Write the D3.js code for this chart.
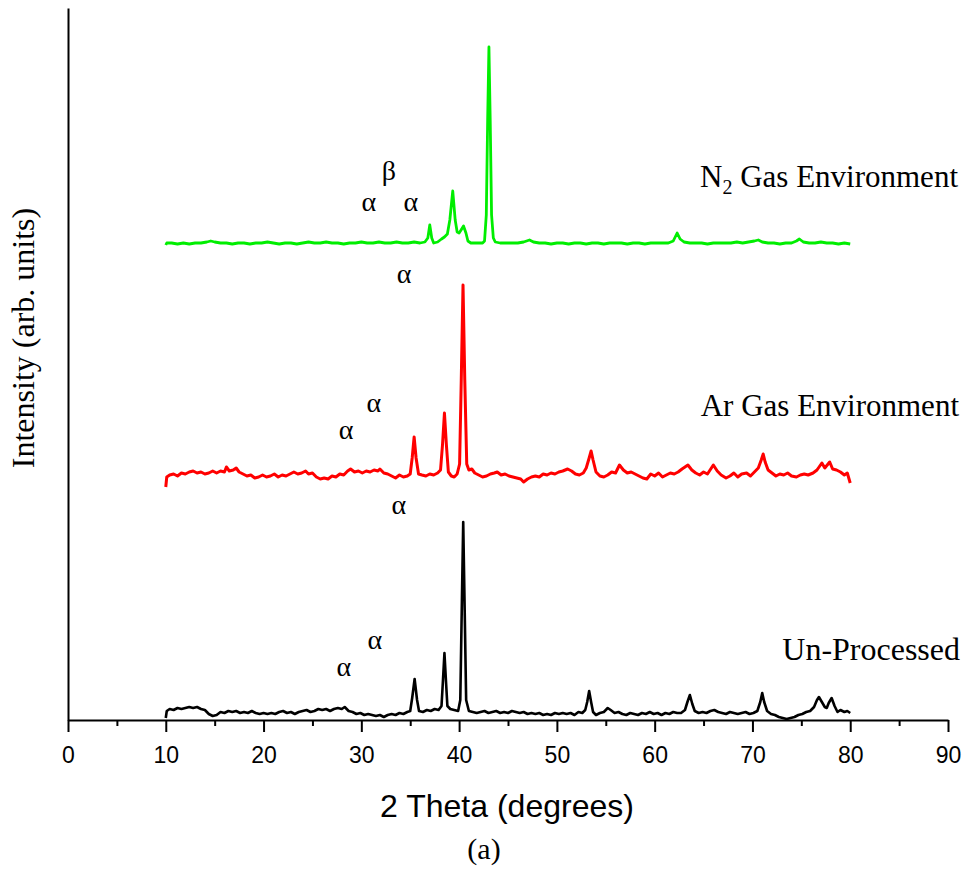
<!DOCTYPE html>
<html>
<head>
<meta charset="utf-8">
<script src="https://cdn.jsdelivr.net/npm/d3@7"></script>
<style>
  body { margin: 0; background: #fff; }
</style>
</head>
<body>
<div id="container"></div>
<script>
let w = 966;
let h = 869;

// x ticks
let majorTicks = [0, 10, 20, 30, 40, 50, 60, 70, 80, 90];
let minorTicks = [5, 15, 25, 35, 45, 55, 65, 75, 85];

// series names
let seriesNames = ["Un-Processed", "Ar Gas Environment", "N2 Gas Environment"];

// [2theta, intensity] (curves already stacked)
let unprocessed = [[10.0,2],[10.1,9],[10.4,11],[10.8,10],[11.2,12],[11.6,11],[12.0,12],[12.4,13],[12.8,12],[13.2,13],[13.6,11],[14.0,10],[14.4,6],[14.8,4],[15.2,5],[15.6,8],[16.0,7],[16.4,9],[16.8,8],[17.2,9],[17.6,7],[18.0,8],[18.4,7],[18.8,9],[19.2,7],[19.6,6],[20.0,7],[20.4,6],[20.8,7],[21.2,6],[21.6,8],[22.0,9],[22.4,7],[22.8,8],[23.2,6],[23.6,8],[24.0,9],[24.4,10],[24.8,8],[25.2,9],[25.6,11],[26.0,10],[26.4,11],[26.8,9],[27.2,11],[27.6,12],[28.0,11],[28.3,13],[28.7,9],[29.1,8],[29.5,6],[29.9,7],[30.3,5],[30.7,6],[31.1,5],[31.5,4],[31.9,5],[32.3,3],[32.7,5],[33.1,6],[33.5,5],[33.9,7],[34.3,6],[34.7,8],[35.0,9],[35.2,22],[35.45,41],[35.7,20],[35.9,9],[36.3,8],[36.7,10],[37.1,9],[37.5,11],[37.9,10],[38.2,14],[38.35,40],[38.5,67],[38.65,40],[38.8,14],[39.1,11],[39.5,10],[39.9,9],[40.12,20],[40.27,110],[40.42,198],[40.57,110],[40.72,20],[41.0,9],[41.4,8],[41.8,7],[42.2,8],[42.6,9],[43.0,7],[43.4,8],[43.8,9],[44.2,7],[44.6,8],[45.0,7],[45.4,9],[45.8,8],[46.2,7],[46.6,8],[47.0,6],[47.4,7],[47.8,6],[48.2,7],[48.6,5],[49.0,6],[49.4,5],[49.8,7],[50.2,6],[50.6,7],[51.0,6],[51.4,7],[51.8,5],[52.2,8],[52.6,7],[52.9,10],[53.1,18],[53.3,29],[53.5,18],[53.7,8],[54.0,5],[54.4,7],[54.8,8],[55.2,12],[55.5,10],[55.9,7],[56.3,8],[56.7,6],[57.1,5],[57.5,7],[57.9,6],[58.3,5],[58.7,7],[59.1,6],[59.5,8],[59.9,6],[60.3,7],[60.7,5],[61.1,7],[61.5,6],[61.9,8],[62.3,7],[62.7,7],[63.1,10],[63.35,18],[63.6,25],[63.85,16],[64.1,9],[64.5,7],[64.9,8],[65.3,7],[65.7,9],[66.1,10],[66.5,8],[66.9,7],[67.3,6],[67.7,8],[68.1,7],[68.5,6],[68.9,7],[69.3,8],[69.7,6],[70.1,7],[70.5,9],[70.8,18],[71.0,27],[71.2,18],[71.5,9],[71.9,6],[72.3,5],[72.7,3],[73.1,2],[73.5,1],[73.9,2],[74.3,3],[74.7,5],[75.1,6],[75.5,8],[75.9,9],[76.3,13],[76.6,20],[76.8,23],[77.1,18],[77.4,13],[77.6,12],[77.8,17],[78.1,22],[78.4,14],[78.7,8],[79.0,10],[79.4,8],[79.7,9],[80.0,7]];

let argon = [[10.0,233],[10.1,243],[10.4,245],[10.8,246],[11.2,244],[11.6,247],[12.0,246],[12.4,248],[12.8,249],[13.2,247],[13.6,248],[14.0,246],[14.4,247],[14.8,249],[15.2,247],[15.6,249],[16.0,248],[16.2,253],[16.5,249],[16.9,250],[17.2,252],[17.5,248],[17.9,246],[18.3,244],[18.7,245],[19.1,242],[19.5,243],[19.9,245],[20.3,243],[20.7,244],[21.1,246],[21.5,243],[21.9,245],[22.3,244],[22.7,246],[23.1,248],[23.5,246],[23.9,247],[24.3,249],[24.6,246],[25.0,247],[25.4,243],[25.8,241],[26.2,242],[26.6,241],[27.0,244],[27.4,243],[27.8,246],[28.2,245],[28.6,249],[28.9,251],[29.3,248],[29.7,249],[30.1,247],[30.5,249],[30.9,248],[31.3,250],[31.7,249],[31.9,251],[32.3,247],[32.7,246],[33.1,244],[33.5,242],[33.9,245],[34.3,243],[34.7,244],[35.0,246],[35.2,262],[35.4,283],[35.6,262],[35.85,246],[36.2,245],[36.6,244],[37.0,246],[37.4,245],[37.8,247],[38.1,250],[38.3,275],[38.5,307],[38.7,275],[38.9,248],[39.2,244],[39.5,243],[39.8,246],[40.05,256],[40.22,340],[40.4,435],[40.58,340],[40.78,256],[41.0,250],[41.3,251],[41.6,247],[42.0,245],[42.4,243],[42.8,244],[43.2,246],[43.6,247],[43.9,248],[44.3,245],[44.7,246],[45.1,244],[45.5,243],[45.9,242],[46.3,241],[46.6,238],[47.0,241],[47.4,243],[47.8,244],[48.2,243],[48.6,246],[49.0,245],[49.4,247],[49.8,246],[50.2,248],[50.6,249],[51.1,251],[51.5,249],[51.9,246],[52.3,245],[52.7,247],[53.0,252],[53.3,262],[53.5,269],[53.7,260],[54.0,248],[54.4,244],[54.8,243],[55.2,245],[55.6,248],[56.0,247],[56.4,255],[56.8,250],[57.2,247],[57.6,248],[58.0,246],[58.4,244],[58.8,242],[59.2,241],[59.6,246],[60.0,244],[60.4,247],[60.8,243],[61.2,245],[61.6,247],[62.0,246],[62.4,248],[62.8,251],[63.4,255],[63.8,250],[64.2,247],[64.6,245],[65.0,248],[65.4,246],[65.8,252],[66.0,255],[66.4,249],[66.8,245],[67.3,242],[67.7,244],[68.1,247],[68.5,243],[68.9,246],[69.4,247],[69.8,244],[70.2,248],[70.6,252],[70.9,260],[71.1,266],[71.3,258],[71.6,250],[72.0,247],[72.4,244],[72.8,246],[73.2,245],[73.6,247],[74.0,244],[74.5,243],[74.9,245],[75.3,246],[75.7,245],[76.2,247],[76.6,250],[77.1,257],[77.4,252],[77.9,258],[78.2,251],[78.6,250],[79.0,248],[79.4,245],[79.7,247],[80.0,237]];

let nitrogen = [[10.0,475],[10.1,477],[10.6,477],[11.2,476],[11.8,477],[12.4,476],[13.0,477],[13.6,477],[14.2,478],[14.6,479],[15.0,478],[15.6,477],[16.2,477],[16.8,476],[17.4,477],[18.0,477],[18.6,476],[19.2,477],[19.8,477],[20.4,478],[21.0,477],[21.6,476],[22.2,477],[22.8,477],[23.4,476],[24.0,477],[24.6,478],[25.2,477],[25.8,477],[26.4,478],[27.0,477],[27.6,477],[28.2,476],[28.8,477],[29.4,477],[30.0,478],[30.6,477],[31.2,477],[31.8,478],[32.4,477],[33.0,477],[33.6,478],[34.2,477],[34.8,477],[35.4,478],[36.0,477],[36.5,478],[36.8,482],[37.0,495],[37.2,482],[37.4,477],[37.8,478],[38.2,481],[38.5,483],[38.8,486],[39.05,500],[39.35,529],[39.6,500],[39.8,488],[40.0,487],[40.2,490],[40.45,494],[40.7,487],[40.9,479],[41.2,477],[41.6,477],[42.0,477],[42.4,477],[42.6,479],[42.78,505],[42.92,600],[43.05,673],[43.18,600],[43.32,505],[43.5,482],[43.7,478],[44.2,477],[44.8,477],[45.4,477],[46.0,477],[46.6,478],[47.2,480],[47.6,478],[48.2,477],[48.8,477],[49.4,476],[50.0,477],[50.6,477],[51.2,476],[51.8,477],[52.4,477],[53.0,476],[53.6,477],[54.2,477],[54.8,476],[55.4,477],[56.0,477],[56.6,477],[57.2,476],[57.8,477],[58.4,477],[59.0,476],[59.6,477],[60.2,477],[60.8,477],[61.4,477],[61.9,479],[62.3,487],[62.6,481],[63.0,478],[63.6,477],[64.2,477],[64.8,477],[65.4,476],[66.0,477],[66.6,477],[67.2,477],[67.8,477],[68.4,478],[69.0,477],[69.6,478],[70.2,479],[70.6,480],[71.0,478],[71.6,477],[72.2,477],[72.8,476],[73.4,477],[74.0,477],[74.5,479],[74.8,481],[75.2,478],[75.8,477],[76.4,477],[77.0,478],[77.6,477],[78.2,477],[78.8,476],[79.4,477],[80.0,476]];

// phase marks: [2theta, intensity, symbol]
let phaseMarks = [
  [30.78, 509, "α"], [35.07, 509, "α"], [32.82, 540, "β"],
  [34.36, 437, "α"],
  [28.43, 281, "α"], [31.29, 308, "α"],
  [33.84, 206, "α"],
  [28.22, 44, "α"], [31.39, 71, "α"]
];

let viz = d3.select('#container')
  .append('svg')
    .attr('width', w)
    .attr('height', h)
    .style('background-color', 'white')
;

let xScale = d3.scaleLinear().domain([0, 90]).range([68, 948]);
let yScale = d3.scaleLinear().domain([0, 712]).range([720, 8]);

// minor ticks
let minorAxis = d3.axisBottom(xScale).tickValues(minorTicks).tickSize(6).tickFormat("");
viz.append("g")
  .attr("transform", "translate(0,720)")
  .call(minorAxis)
  .call(g => g.select(".domain").remove())
  .selectAll("line").attr("stroke", "black").attr("stroke-width", 2);

// major ticks with labels
let xAxis = d3.axisBottom(xScale).tickValues(majorTicks).tickSize(12).tickSizeOuter(0);
let xAxisGroup = viz.append("g")
  .attr("transform", "translate(0,720)")
  .call(xAxis);
xAxisGroup.select(".domain").attr("stroke", "black").attr("stroke-width", 2);
xAxisGroup.selectAll("line").attr("stroke", "black").attr("stroke-width", 2);
xAxisGroup.selectAll("text")
  .attr("y", 43)
  .attr("dy", 0)
  .attr("fill", "black")
  .style("font-family", "'Liberation Sans', Arial, sans-serif")
  .style("font-size", "23px");

// y axis line, no ticks
let yAxis = d3.axisLeft(yScale).tickValues([]).tickSizeOuter(0);
viz.append("g")
  .attr("transform", "translate(68,0)")
  .call(yAxis)
  .select(".domain").attr("stroke", "black").attr("stroke-width", 2);

let line = d3.line()
  .x(d => xScale(d[0]))
  .y(d => yScale(d[1]));

let curves = [
  { data: unprocessed, color: "black", width: 2.6 },
  { data: argon, color: "#ff0000", width: 3 },
  { data: nitrogen, color: "#00ee00", width: 2.8 }
];

viz.append("g").classed("curves", true)
  .selectAll("path").data(curves).enter().append("path")
    .attr("d", d => line(d.data))
    .attr("fill", "none")
    .attr("stroke", d => d.color)
    .attr("stroke-width", d => d.width)
    .attr("stroke-linejoin", "round");

let serif = "'Liberation Serif', 'Times New Roman', serif";

// phase symbols
viz.append("g").selectAll("text").data(phaseMarks).enter().append("text")
  .attr("x", d => xScale(d[0]))
  .attr("y", d => yScale(d[1]))
  .attr("text-anchor", "middle")
  .style("font-family", serif)
  .style("font-size", "28px")
  .text(d => d[2]);

// series labels
viz.append("text")
  .attr("x", 960).attr("y", 660)
  .attr("text-anchor", "end")
  .style("font-family", serif).style("font-size", "32px")
  .text(seriesNames[0]);

viz.append("text")
  .attr("x", 959).attr("y", 416)
  .attr("text-anchor", "end")
  .style("font-family", serif).style("font-size", "31px")
  .text(seriesNames[1]);

let n2 = viz.append("text")
  .attr("x", 958).attr("y", 187)
  .attr("text-anchor", "end")
  .style("font-family", serif).style("font-size", "31px");
n2.append("tspan").text("N");
n2.append("tspan").attr("dy", 7).style("font-size", "20px").text("2");
n2.append("tspan").attr("dy", -7).text(" Gas Environment");

// axis titles
viz.append("text")
  .attr("x", 507).attr("y", 817)
  .attr("text-anchor", "middle")
  .style("font-family", "'Liberation Sans', Arial, sans-serif")
  .style("font-size", "32px")
  .text("2 Theta (degrees)");

viz.append("text")
  .attr("transform", "translate(34,338) rotate(-90)")
  .attr("text-anchor", "middle")
  .style("font-family", serif)
  .style("font-size", "32px")
  .text("Intensity (arb. units)");

viz.append("text")
  .attr("x", 484).attr("y", 859)
  .attr("text-anchor", "middle")
  .style("font-family", serif)
  .style("font-size", "30px")
  .text("(a)");
</script>
</body>
</html>
